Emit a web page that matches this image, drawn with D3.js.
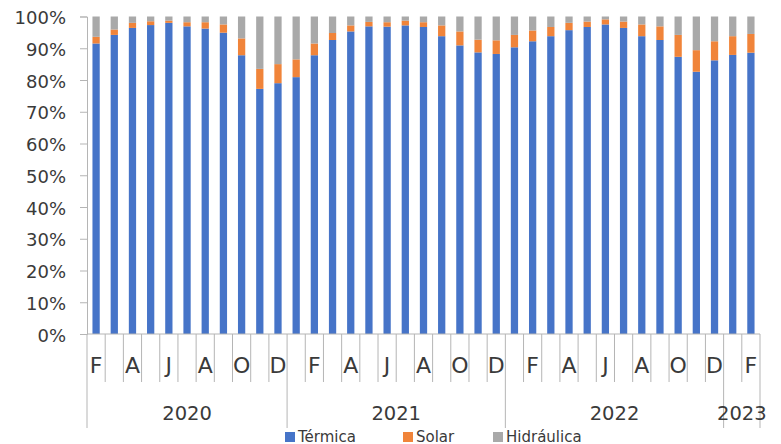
<!DOCTYPE html>
<html>
<head>
<meta charset="utf-8">
<script src="https://cdn.jsdelivr.net/npm/d3@7"></script>
<style>
 body { margin: 0; background: #fff; }
 text { font-family: "DejaVu Sans", Verdana, sans-serif; fill: #3a3a3a; }
</style>
</head>
<body>
<script>
// month initials, one per bar (feb 2020 .. feb 2023)
var months = ["F","M","A","M","J","J","A","S","O","N","D",
  "E","F","M","A","M","J","J","A","S","O","N","D",
  "E","F","M","A","M","J","J","A","S","O","N","D",
  "E","F"];
var years = ["2020","2020","2020","2020","2020","2020","2020","2020","2020","2020","2020",
  "2021","2021","2021","2021","2021","2021","2021","2021","2021","2021","2021","2021",
  "2022","2022","2022","2022","2022","2022","2022","2022","2022","2022","2022","2022",
  "2023","2023"];

// shares in %
var termica = [91.5,94.2,96.4,97.3,98.0,96.9,96.2,94.9,87.8,77.2,79.0,
  80.9,87.8,92.6,95.3,96.9,96.8,97.2,96.7,93.8,90.9,88.7,88.2,
  90.3,92.2,93.8,95.7,96.7,97.5,96.4,93.8,92.6,87.3,82.6,86.2,
  87.9,88.6];
var solar = [2.1,1.7,1.6,1.2,0.7,1.3,2.0,2.6,5.3,6.3,6.0,
  5.6,3.7,2.2,1.9,1.4,1.4,1.5,1.5,3.4,4.4,4.0,4.3,
  3.9,3.4,2.9,2.3,1.7,1.6,2.0,3.7,4.3,6.9,6.8,6.0,
  5.9,5.9];
var hidraulica = [6.4,4.1,2.0,1.5,1.3,1.8,1.8,2.5,6.9,16.5,15.0,
  13.5,8.5,5.2,2.8,1.7,1.8,1.3,1.8,2.8,4.7,7.3,7.5,
  5.8,4.4,3.3,2.0,1.6,0.9,1.6,2.5,3.1,5.8,10.6,7.8,
  6.2,5.5];

var seriesNames = ["Térmica", "Solar", "Hidráulica"];
var colors = ["#4674c8", "#f0843a", "#a9a9a9"];
var yTicks = [0,0.1,0.2,0.3,0.4,0.5,0.6,0.7,0.8,0.9,1];

var width = 781, height = 444;
var plotLeft = 87, plotRight = 760, plotTop = 16.5, plotBottom = 334;
var axisColor = "#b5b5b5";

var rows = months.map(function(m, i) {
  var tot = termica[i] + solar[i] + hidraulica[i];
  return { i: i, "Térmica": termica[i] / tot, "Solar": solar[i] / tot, "Hidráulica": hidraulica[i] / tot };
});

var svg = d3.select("body").append("svg")
  .attr("width", width)
  .attr("height", height);

var xCat = d3.scaleBand()
  .domain(d3.range(months.length))
  .range([plotLeft, plotRight]);
var step = xCat.bandwidth();

var y = d3.scaleLinear().domain([0, 1]).range([plotBottom, plotTop]);

// bars
var stack = d3.stack().keys(seriesNames)(rows);

svg.append("g").selectAll("g")
  .data(stack)
  .enter().append("g")
  .attr("fill", function(d, k) { return colors[k]; })
  .selectAll("rect")
  .data(function(d) { return d; })
  .enter().append("rect")
  .attr("x", function(d) { return xCat(d.data.i) + step * 0.3; })
  .attr("width", step * 0.4)
  .attr("y", function(d) { return y(d[1]); })
  .attr("height", function(d) { return y(d[0]) - y(d[1]); });

// y axis
var yAxis = svg.append("g")
  .attr("transform", "translate(" + plotLeft + ",0)")
  .call(d3.axisLeft(y).tickValues(yTicks).tickFormat(d3.format(".0%")).tickSize(7).tickPadding(14));
yAxis.select(".domain").attr("stroke", axisColor);
yAxis.selectAll(".tick line").attr("stroke", axisColor);
yAxis.selectAll(".tick text")
  .style("font-size", "18px")
  .style("font-family", "DejaVu Sans")
  .attr("dy", "0.4em")
  .attr("fill", "#3a3a3a");

// x axis base line
svg.append("line")
  .attr("x1", plotLeft).attr("x2", plotRight)
  .attr("y1", plotBottom).attr("y2", plotBottom)
  .attr("stroke", axisColor);

// month separators
svg.append("g").selectAll("line")
  .data(d3.range(months.length + 1))
  .enter().append("line")
  .attr("x1", function(i) { return plotLeft + i * step; })
  .attr("x2", function(i) { return plotLeft + i * step; })
  .attr("y1", plotBottom)
  .attr("y2", function(i) {
    var isYear = i == 0 || i == months.length || years[i] != years[i - 1];
    return isYear ? 428 : 382;
  })
  .attr("stroke", axisColor);

// month labels, every other one
svg.append("g").selectAll("text")
  .data(months)
  .enter().append("text")
  .filter(function(d, i) { return i % 2 == 0; })
  .attr("x", function(d, i) { return xCat(i * 2) + step / 2; })
  .attr("y", 372.5)
  .attr("text-anchor", "middle")
  .style("font-size", "22px")
  .text(function(d) { return d; });

// year labels
var groups = d3.groups(d3.range(years.length), function(i) { return years[i]; });
svg.append("g").selectAll("text")
  .data(groups)
  .enter().append("text")
  .attr("x", function(g) {
    var a = g[1][0], b = g[1][g[1].length - 1];
    return (xCat(a) + xCat(b) + step) / 2;
  })
  .attr("y", 420)
  .attr("text-anchor", "middle")
  .style("font-size", "19.5px")
  .text(function(g) { return g[0]; });

// legend
var legendX = [285, 403, 493];
var legend = svg.append("g").selectAll("g")
  .data(seriesNames)
  .enter().append("g")
  .attr("transform", function(d, k) { return "translate(" + legendX[k] + ",432)"; });
legend.append("rect")
  .attr("width", 10).attr("height", 10)
  .attr("fill", function(d, k) { return colors[k]; });
legend.append("text")
  .attr("x", 13)
  .attr("y", 10)
  .style("font-size", "15px")
  .text(function(d) { return d; });
</script>
</body>
</html>
